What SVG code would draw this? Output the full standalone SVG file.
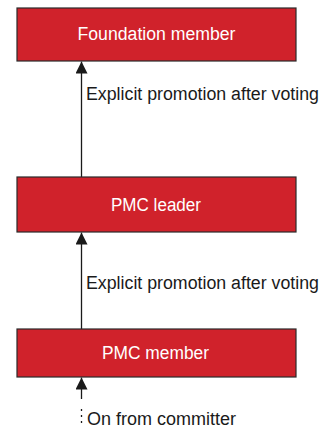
<svg xmlns="http://www.w3.org/2000/svg" width="331" height="430" viewBox="0 0 331 430">
<defs>
<style>
.box{fill:#d0222b;stroke:#2a2a2a;stroke-width:1.2}
.t{font-family:"Liberation Sans",Arial,sans-serif;font-size:18px;fill:#ffffff;text-anchor:middle}
.lbl{font-family:"Liberation Sans",Arial,sans-serif;font-size:18px;fill:#1a1a1a}
.ln{stroke:#1a1a1a;stroke-width:1.3;fill:none}
</style>
<marker id="ah" viewBox="0 0 12 12" refX="12" refY="6" markerWidth="12" markerHeight="12" markerUnits="userSpaceOnUse" orient="auto">
<path d="M0,0 L12,6 L0,12 Z" fill="#1a1a1a"/>
</marker>
</defs>
<rect width="331" height="430" fill="#ffffff"/>
<g id="connectors">
<line class="ln" x1="81.5" y1="177" x2="81.5" y2="61.5" marker-end="url(#ah)"/>
<line class="ln" x1="81.5" y1="329" x2="81.5" y2="232.5" marker-end="url(#ah)"/>
<line class="ln" x1="81.5" y1="399" x2="81.5" y2="377.5" marker-end="url(#ah)"/>
<line class="ln" x1="81.5" y1="409" x2="81.5" y2="426" stroke-dasharray="2,4"/>
<text class="lbl" x="86" y="100" textLength="233" lengthAdjust="spacingAndGlyphs">Explicit promotion after voting</text>
<text class="lbl" x="86" y="289" textLength="233" lengthAdjust="spacingAndGlyphs">Explicit promotion after voting</text>
<text class="lbl" x="87" y="425" textLength="149" lengthAdjust="spacingAndGlyphs">On from committer</text>
</g>
<g id="foundation-member">
<rect class="box" x="17" y="8" width="279" height="53"/>
<text class="t" x="156.5" y="40" textLength="158" lengthAdjust="spacingAndGlyphs">Foundation member</text>
</g>
<g id="pmc-leader">
<rect class="box" x="17" y="177" width="279" height="55"/>
<text class="t" x="156" y="211" textLength="90" lengthAdjust="spacingAndGlyphs">PMC leader</text>
</g>
<g id="pmc-member">
<rect class="box" x="17" y="329" width="279" height="48"/>
<text class="t" x="155.5" y="359" textLength="107" lengthAdjust="spacingAndGlyphs">PMC member</text>
</g>
</svg>
